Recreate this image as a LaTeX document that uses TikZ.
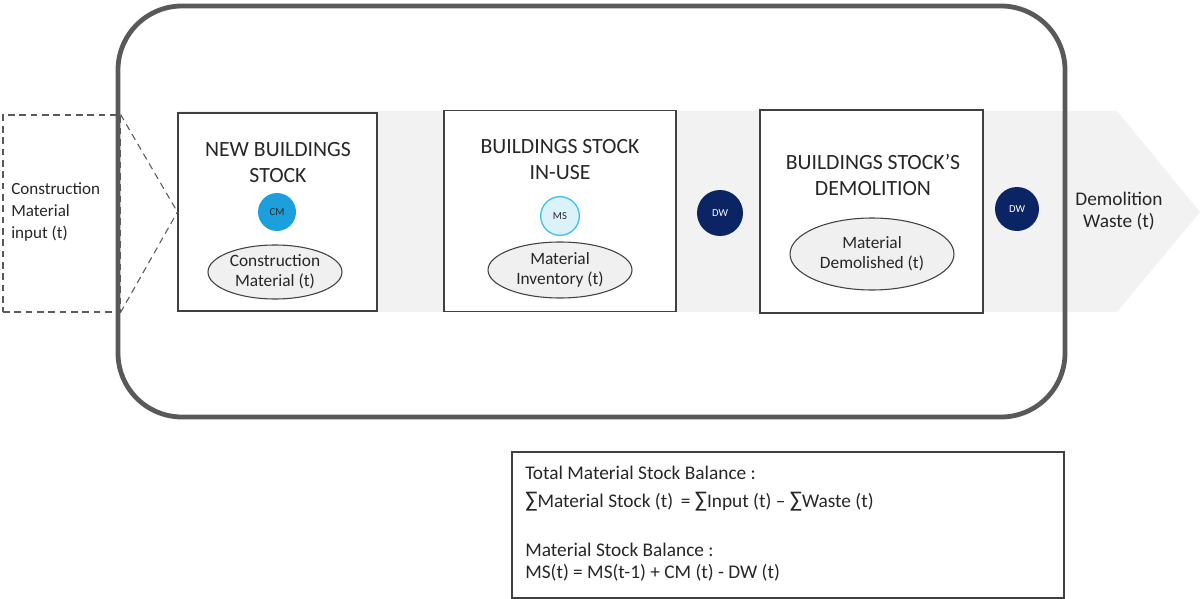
\documentclass[tikz,border=0pt]{standalone}
\usepackage{fontspec}
\setmainfont{Carlito}
\usetikzlibrary{shapes.geometric}
\definecolor{bandgray}{HTML}{F2F2F2}
\definecolor{outerline}{HTML}{595959}
\definecolor{boxline}{HTML}{404040}
\definecolor{txt}{HTML}{262626}
\definecolor{cmblue}{HTML}{1CA0DD}
\definecolor{msfill}{HTML}{DCF2FB}
\definecolor{msline}{HTML}{3FC2EE}
\definecolor{dwnavy}{HTML}{0B2463}
\definecolor{ellfill}{HTML}{F0F0F0}
\tikzset{
  stagebox/.style={draw=boxline, line width=0.9pt, fill=white, inner sep=0pt},
  stagetitle/.style={font=\fontsize{16.3}{19.5}\selectfont, text=txt, align=center, inner sep=0pt},
  txtlabel/.style={font=\fontsize{12.8}{16.5}\selectfont, text=txt, align=center, inner sep=0pt},
  elltext/.style={font=\fontsize{13}{15}\selectfont, text=txt, align=center},
  outtext/.style={font=\fontsize{14.5}{16.5}\selectfont, text=txt, align=center, inner sep=0pt},
  ellbox/.style={ellipse, draw=boxline, line width=0.8pt, fill=ellfill, inner sep=0pt},
  flowdot/.style={circle, inner sep=0pt, font=\fontsize{8}{9}\selectfont},
  dwdot/.style={flowdot, fill=dwnavy, text=white},
  dashline/.style={outerline, line width=0.8pt, dash pattern=on 5pt off 3.5pt},
  formula/.style={font=\fontsize{14.5}{17}\selectfont, text=txt, anchor=base west, inner sep=0pt},
}
\newcommand{\bigsum}{{\fontsize{17}{17}\selectfont ∑}}
\begin{document}
\begin{tikzpicture}[x=0.75pt,y=-0.75pt]
\useasboundingbox (0,0) rectangle (1202,599);
% grey flow band with arrow head
\fill[bandgray] (178,111) -- (1117,111) -- (1200,212) -- (1117,312) -- (178,312) -- cycle;
% input dashed box
\node[draw, dashline, minimum width=87.75pt, minimum height=147.75pt, inner sep=0pt] (inp) at (61.5,213.5) {};
\node[txtlabel, align=left, anchor=west] (inptxt) at (11,212) {Construction\\Material\\input (t)};
% outer system boundary
\draw[outerline, line width=3.6pt, rounded corners=48pt] (118,6) rectangle (1065,417);
% stage boxes
\node[stagebox, minimum width=149.25pt, minimum height=148.5pt] (b1) at (277.5,212) {};
\node[stagebox, minimum width=174pt, minimum height=150.75pt] (b2) at (560,211) {};
\node[stagebox, minimum width=167.25pt, minimum height=152.25pt] (b3) at (871.5,211.5) {};
% dashed connectors
\draw[dashline] (inp.north east) -- (b1.west);
\draw[dashline] (inp.south east) -- (b1.west);
% titles
\node[stagetitle] (t1) at (278,163) {NEW BUILDINGS\\STOCK};
\node[stagetitle] (t2) at (560,160) {BUILDINGS STOCK\\IN-USE};
\node[stagetitle] (t3) at (873,175) {BUILDINGS STOCK’S\\DEMOLITION};
% circles
\node[flowdot, fill=cmblue, text=txt, minimum size=28.5pt] (cm) at (277,212) {CM};
\node[flowdot, fill=msfill, draw=msline, line width=1pt, text=txt, minimum size=29pt] (ms) at (560,216) {MS};
\node[dwdot, minimum size=34.5pt] (dw1) at (720,213) {DW};
\node[dwdot, minimum size=33pt] (dw2) at (1017,209) {DW};
% ellipses
\node[ellbox, minimum width=100.5pt, minimum height=40.5pt, elltext] (e1) at (275,272) {Construction\\Material (t)};
\node[ellbox, minimum width=108pt, minimum height=42pt, elltext] (e2) at (560,270) {Material\\Inventory (t)};
\node[ellbox, minimum width=123pt, minimum height=54pt, elltext] (e3) at (872,254) {Material\\Demolished (t)};
% output label
\node[outtext] (out) at (1119,211) {Demolition\\Waste (t)};
% formula box
\draw[boxline, line width=0.9pt] (512,452) rectangle (1064,598);
\node[formula] (f1) at (525,479) {Total Material Stock Balance :};
\node[formula] (f2) at (525,507) {\bigsum Material Stock (t)\, = \bigsum Input (t) – \bigsum Waste (t)};
\node[formula] (f3) at (525,556) {Material Stock Balance :};
\node[formula] (f4) at (525,578) {MS(t) = MS(t-1) + CM (t) - DW (t)};
\end{tikzpicture}
\end{document}
